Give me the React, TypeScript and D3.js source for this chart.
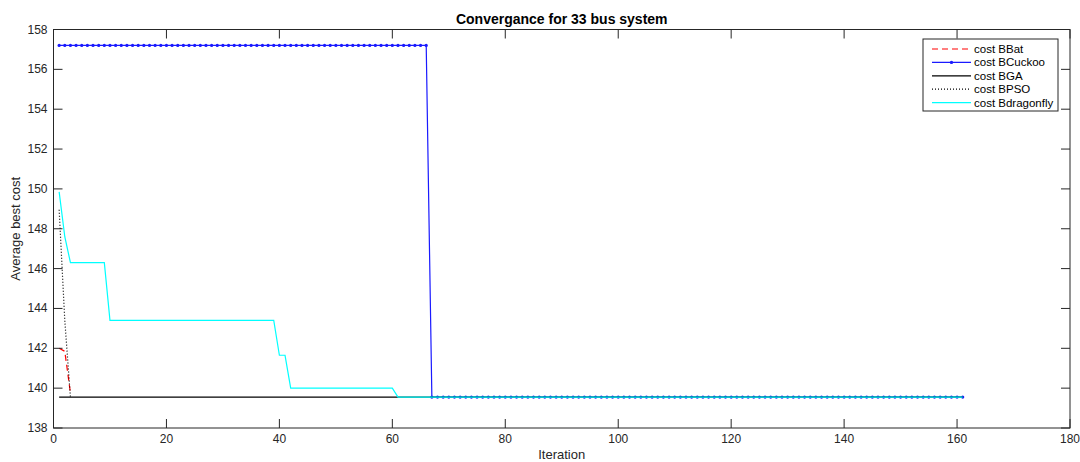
import React, { useEffect, useRef } from 'react';
import * as d3 from 'd3';

// values per iteration (short series)
const batCost = [142.0, 141.85, 139.75];
const psoCost = [148.95, 143.4, 139.55];
// step series as [value, number of iterations]
const gaRuns: [number, number][] = [[139.55, 161]];
const cuckooRuns: [number, number][] = [[157.2, 66], [139.55, 95]];
const dragonflyRuns: [number, number][] = [
  [149.85, 1], [147.6, 1], [146.3, 7], [143.4, 30], [141.65, 2], [140.0, 19], [139.55, 101],
];
const xTicks = [0, 20, 40, 60, 80, 100, 120, 140, 160, 180];
const yTicks = [138, 140, 142, 144, 146, 148, 150, 152, 154, 156, 158];
const legendNames = ['cost BBat', 'cost BCuckoo', 'cost BGA', 'cost BPSO', 'cost Bdragonfly'];

const fromRuns = (runs: [number, number][]) => runs.flatMap(([v, n]) => Array(n).fill(v));

const App = () => {
  const ref = useRef<SVGSVGElement>(null);

  useEffect(() => {
    const svg = d3.select(ref.current);
    svg.selectAll('*').remove();
    const font = 'Liberation Sans, Arial, sans-serif';
    const axisColor = '#262626';

    const left = 53.5, right = 1070, top = 29.5, bottom = 428;
    const x = d3.scaleLinear().domain([0, 180]).range([left, right]);
    const y = d3.scaleLinear().domain([138, 158]).range([bottom, top]);

    svg.append('rect')
      .attr('x', left).attr('y', top)
      .attr('width', right - left).attr('height', bottom - top)
      .attr('fill', '#fff');

    const line = d3.line<number>()
      .x((d, i) => x(i + 1))
      .y(d => y(d));

    const series = [
      { data: batCost, color: '#ff0000', dash: '6,4', markers: false },
      { data: fromRuns(cuckooRuns), color: '#1a1aff', dash: null, markers: true },
      { data: fromRuns(gaRuns), color: '#000000', dash: null, markers: false },
      { data: psoCost, color: '#000000', dash: '1,2', markers: false },
      { data: fromRuns(dragonflyRuns), color: '#00ffff', dash: null, markers: false },
    ];

    series.forEach(s => {
      svg.append('path')
        .datum(s.data)
        .attr('d', line)
        .attr('fill', 'none')
        .attr('stroke', s.color)
        .attr('stroke-width', 1.2)
        .attr('stroke-dasharray', s.dash);
      if (s.markers) {
        svg.append('g')
          .selectAll('circle')
          .data(s.data)
          .enter()
          .append('circle')
          .attr('cx', (d, i) => x(i + 1))
          .attr('cy', d => y(d))
          .attr('r', 1.6)
          .attr('fill', s.color);
      }
    });

    // axes box with inward ticks on all sides
    const ax = svg.append('g').attr('stroke', axisColor).attr('stroke-width', 1).attr('fill', 'none');
    ax.append('rect')
      .attr('x', left).attr('y', top)
      .attr('width', right - left).attr('height', bottom - top);
    const tl = 9;
    xTicks.forEach(t => {
      ax.append('line').attr('x1', x(t)).attr('x2', x(t)).attr('y1', bottom).attr('y2', bottom - tl);
      ax.append('line').attr('x1', x(t)).attr('x2', x(t)).attr('y1', top).attr('y2', top + tl);
    });
    yTicks.forEach(t => {
      ax.append('line').attr('x1', left).attr('x2', left + tl).attr('y1', y(t)).attr('y2', y(t));
      ax.append('line').attr('x1', right).attr('x2', right - tl).attr('y1', y(t)).attr('y2', y(t));
    });

    svg.append('g')
      .selectAll('text')
      .data(xTicks)
      .enter()
      .append('text')
      .attr('x', d => x(d))
      .attr('y', bottom + 15)
      .attr('text-anchor', 'middle')
      .attr('font-family', font)
      .attr('font-size', 12)
      .attr('fill', axisColor)
      .text(d => d);

    svg.append('g')
      .selectAll('text')
      .data(yTicks)
      .enter()
      .append('text')
      .attr('x', left - 6)
      .attr('y', d => y(d) + 4)
      .attr('text-anchor', 'end')
      .attr('font-family', font)
      .attr('font-size', 12)
      .attr('fill', axisColor)
      .text(d => d);

    svg.append('text')
      .attr('x', (left + right) / 2)
      .attr('y', 24)
      .attr('text-anchor', 'middle')
      .attr('font-family', font)
      .attr('font-weight', 'bold')
      .attr('font-size', 14)
      .attr('fill', '#000')
      .text('Convergance for 33 bus system');

    svg.append('text')
      .attr('x', (left + right) / 2)
      .attr('y', 459)
      .attr('text-anchor', 'middle')
      .attr('font-family', font)
      .attr('font-size', 13)
      .attr('fill', axisColor)
      .text('Iteration');

    svg.append('text')
      .attr('transform', `translate(20, ${(top + bottom) / 2}) rotate(-90)`)
      .attr('text-anchor', 'middle')
      .attr('font-family', font)
      .attr('font-size', 13)
      .attr('fill', axisColor)
      .text('Average best cost');

    // legend
    const lg = svg.append('g');
    lg.append('rect')
      .attr('x', 923).attr('y', 39)
      .attr('width', 135).attr('height', 72)
      .attr('fill', '#fff')
      .attr('stroke', axisColor)
      .attr('stroke-width', 1);
    legendNames.forEach((name, i) => {
      const s = series[i];
      const ly = 49 + i * 13.4;
      lg.append('line')
        .attr('x1', 932).attr('x2', 971)
        .attr('y1', ly).attr('y2', ly)
        .attr('stroke', s.color)
        .attr('stroke-width', 1.2)
        .attr('stroke-dasharray', s.dash);
      if (s.markers) {
        lg.append('circle').attr('cx', 951.5).attr('cy', ly).attr('r', 1.7).attr('fill', s.color);
      }
      lg.append('text')
        .attr('x', 974)
        .attr('y', ly + 4)
        .attr('font-family', font)
        .attr('font-size', 11.5)
        .attr('fill', '#000')
        .text(name);
    });
  }, []);

  return (
    <svg
      ref={ref}
      width={1080}
      height={462}
      style={{ position: 'absolute', left: 0, top: 0, background: '#fff' }}
    />
  );
};

export default App;
